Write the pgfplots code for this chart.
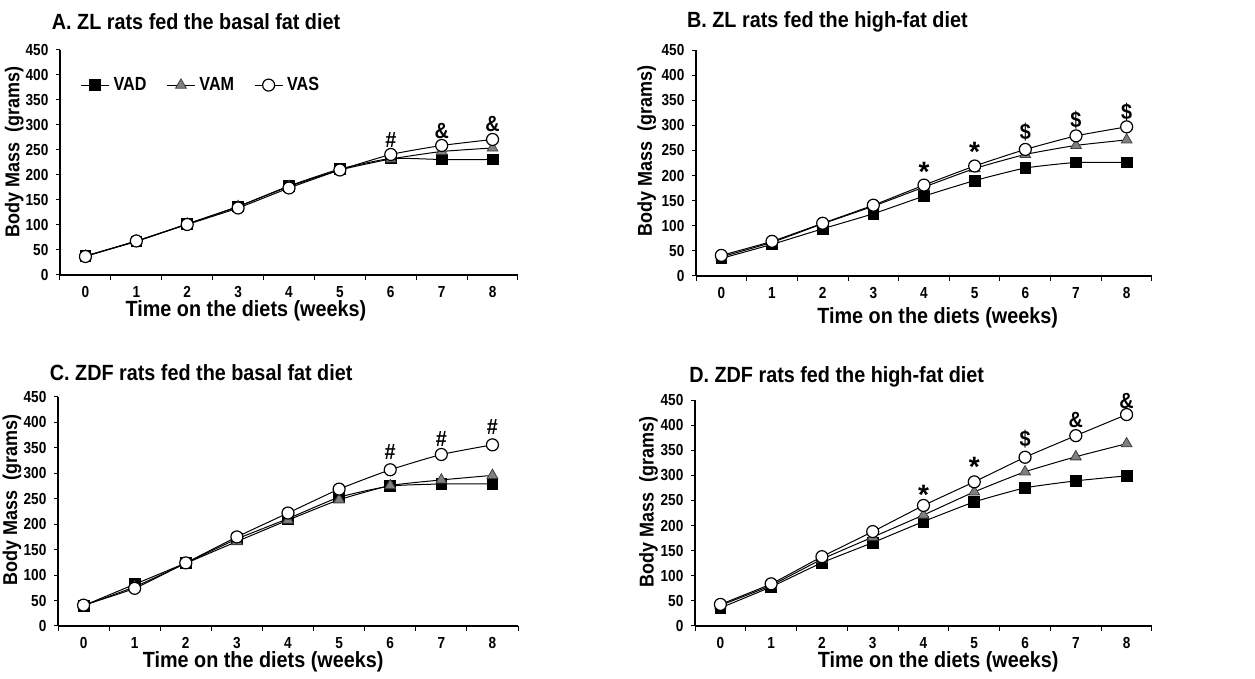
\documentclass[border=0pt]{standalone}
\usepackage{fontspec}
\setmainfont{Liberation Sans}
\newfontfamily\condf{Liberation Sans}[FakeStretch=0.9]
\newfontfamily\condb{Liberation Sans}[FakeStretch=0.85]
\usepackage{pgfplots}
\pgfplotsset{compat=1.18}
\definecolor{trigray}{RGB}{128,128,128}
\tikzset{
  annot/.style={font=\condf\bfseries\fontsize{11}{12}\selectfont, inner sep=0pt},
  starann/.style={font=\bfseries\fontsize{14}{14}\selectfont, inner sep=0pt},
}
\pgfplotsset{
  every axis title/.style={},
  rat/.style={
    scale only axis,
    axis lines=left,
    axis line style={-, line width=0.6pt},
    xmin=-0.5, xmax=8.5, ymin=0, ymax=450,
    xtick={0,...,8},
    minor xtick={-0.5,0.5,...,8.5},
    ytick={0,50,...,450},
    tick align=outside,
    major x tick style={draw=none},
    major tick length=2pt,
    minor tick length=2.5pt,
    tick style={black, line width=0.5pt},
    /pgf/number format/assume math mode=true,
    ticklabel style={font=\condb\bfseries\fontsize{8}{9}\selectfont},
    xticklabel style={yshift=0pt},
    yticklabel style={xshift=-0.3pt},
    xlabel={Time on the diets (weeks)},
    ylabel={Body Mass\ \ (grams)},
    xlabel style={font=\condf\bfseries\fontsize{11}{12}\selectfont, anchor=center},
    ylabel style={font=\condf\bfseries\fontsize{10}{11}\selectfont, anchor=center, rotate=0},
    title style={font=\condf\bfseries\fontsize{11}{12}\selectfont, anchor=west},
    clip=false,
  },
  vad/.style={black, line width=0.5pt, smooth, tension=0.3, mark=square*, mark size=2.7pt, mark options={fill=black, draw=black, line width=0.4pt}},
  vam/.style={black, line width=0.5pt, smooth, tension=0.3, mark=triangle*, mark size=3.1pt, mark options={fill=trigray, draw=black!75, line width=0.4pt}},
  vas/.style={black, line width=0.5pt, smooth, tension=0.3, mark=*, mark size=3pt, mark options={fill=white, draw=black, line width=0.6pt}},
}
\begin{document}
\begin{tikzpicture}
\path[use as bounding box] (0,0) rectangle (627.5pt,339.5pt);

% ---------- A ----------
\begin{axis}[rat, at={(30pt,202pt)}, anchor=south west, width=229pt, height=112.5pt,
  title={A. ZL rats fed the basal fat diet},
  title style={at={(axis description cs:-0.033,1.124)}},
  xlabel style={at={(axis description cs:0.406,-0.16)}},
  ylabel style={at={(axis description cs:-0.1,0.547)}},
  legend style={at={(axis description cs:0.044,0.844)}, anchor=west, draw=none, fill=none,
    legend columns=3, font=\condb\bfseries\fontsize{9.5}{10}\selectfont,
    /tikz/every even column/.append style={column sep=8pt}, inner sep=0pt},
  legend cell align=left,
  legend image code/.code={\draw[mark repeat=2,mark phase=2,#1] plot coordinates {(0pt,0pt) (7pt,0pt) (14pt,0pt)};},
]
\addplot[vad] coordinates {(0,38)(1,67)(2,102)(3,137)(4,178)(5,212)(6,233)(7,231)(8,231)};
\addlegendentry{VAD}
\addplot[vam] coordinates {(0,38)(1,68)(2,102)(3,137)(4,177)(5,210)(6,232)(7,247)(8,254)};
\addlegendentry{VAM}
\addplot[vas] coordinates {(0,37)(1,68)(2,101)(3,134)(4,174)(5,210)(6,241)(7,259)(8,271)};
\addlegendentry{VAS}
\node[annot] at (axis cs:6,270) {\#};
\node[annot] at (axis cs:7,287) {\&};
\node[annot] at (axis cs:8,302) {\&};
\end{axis}

% ---------- B ----------
\begin{axis}[rat, at={(348pt,201.5pt)}, anchor=south west, width=228pt, height=113pt,
  title={B. ZL rats fed the high-fat diet},
  title style={at={(axis description cs:-0.035,1.124)}},
  xlabel style={at={(axis description cs:0.53,-0.186)}},
  ylabel style={at={(axis description cs:-0.108,0.553)}},
]
\addplot[vad] coordinates {(0,35)(1,63)(2,94)(3,124)(4,159)(5,190)(6,215)(7,226)(8,226)};
\addplot[vam] coordinates {(0,38)(1,67)(2,104)(3,139)(4,177)(5,214)(6,242)(7,260)(8,271)};
\addplot[vas] coordinates {(0,41)(1,69)(2,105)(3,141)(4,181)(5,219)(6,252)(7,279)(8,297)};
\node[starann] at (axis cs:4,208) {*};
\node[starann] at (axis cs:5,248) {*};
\node[annot] at (axis cs:6,287) {\$};
\node[annot] at (axis cs:7,310) {\$};
\node[annot] at (axis cs:8,327) {\$};
\end{axis}

% ---------- C ----------
\begin{axis}[rat, at={(29pt,26.5pt)}, anchor=south west, width=230pt, height=114.5pt,
  title={C. ZDF rats fed the basal fat diet},
  title style={at={(axis description cs:-0.033,1.105)}},
  xlabel style={at={(axis description cs:0.446,-0.157)}},
  ylabel style={at={(axis description cs:-0.1,0.55)}},
]
\addplot[vad] coordinates {(0,40)(1,82)(2,124)(3,171)(4,211)(5,253)(6,275)(7,279)(8,279)};
\addplot[vam] coordinates {(0,40)(1,77)(2,123)(3,166)(4,208)(5,248)(6,276)(7,287)(8,296)};
\addplot[vas] coordinates {(0,41)(1,74)(2,124)(3,175)(4,222)(5,269)(6,307)(7,337)(8,356)};
\node[annot] at (axis cs:6,342) {\#};
\node[annot] at (axis cs:7,368) {\#};
\node[annot] at (axis cs:8,392) {\#};
\end{axis}

% ---------- D ----------
\begin{axis}[rat, at={(347.5pt,26.5pt)}, anchor=south west, width=228.5pt, height=113pt,
  title={D. ZDF rats fed the high-fat diet},
  title style={at={(axis description cs:-0.028,1.102)}},
  xlabel style={at={(axis description cs:0.532,-0.159)}},
  ylabel style={at={(axis description cs:-0.102,0.549)}},
]
\addplot[vad] coordinates {(0,36)(1,78)(2,126)(3,166)(4,208)(5,247)(6,275)(7,289)(8,299)};
\addplot[vam] coordinates {(0,41)(1,81)(2,133)(3,177)(4,221)(5,267)(6,307)(7,337)(8,363)};
\addplot[vas] coordinates {(0,43)(1,84)(2,138)(3,188)(4,240)(5,287)(6,336)(7,379)(8,421)};
\node[starann] at (axis cs:4,261) {*};
\node[starann] at (axis cs:5,316) {*};
\node[annot] at (axis cs:6,372) {\$};
\node[annot] at (axis cs:7,410) {\&};
\node[annot] at (axis cs:8,448) {\&};
\end{axis}
\end{tikzpicture}
\end{document}
